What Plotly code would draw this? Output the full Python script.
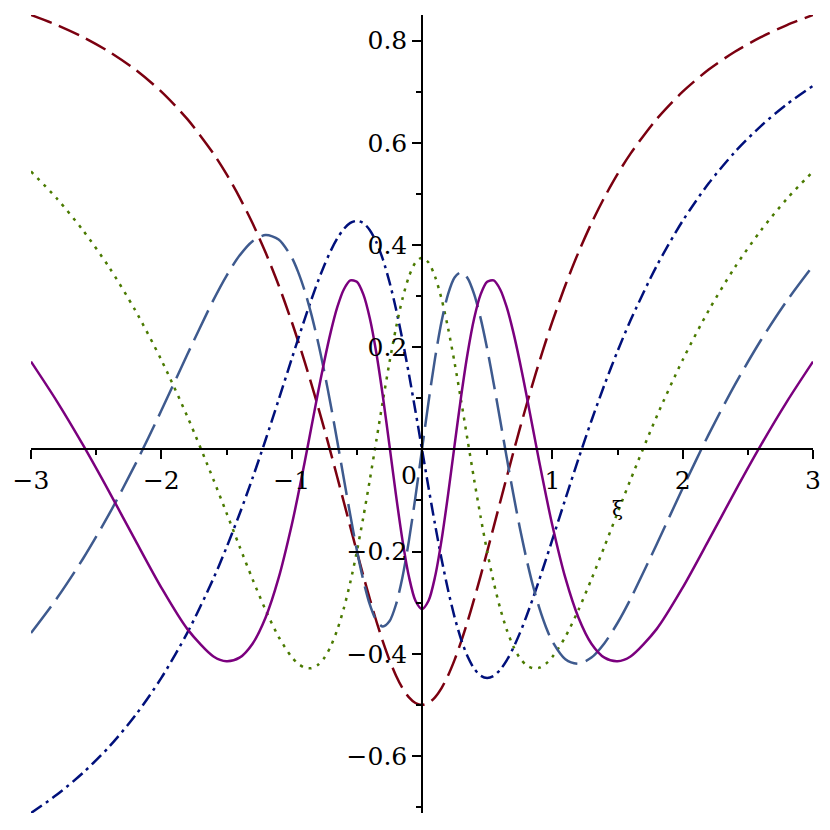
import plotly.graph_objects as go

# sample abscissae (xi)
xi = [-3.0, -2.8, -2.6, -2.4, -2.2, -2.0, -1.8, -1.6, -1.5, -1.4, -1.3, -1.2, -1.1, -1.0,
      -0.95, -0.9, -0.85, -0.8, -0.75, -0.7, -0.65, -0.6, -0.55, -0.5, -0.45, -0.4, -0.35,
      -0.3, -0.25, -0.2, -0.15, -0.1, -0.05,
      0.0,
      0.05, 0.1, 0.15, 0.2, 0.25, 0.3, 0.35, 0.4, 0.45, 0.5, 0.55, 0.6, 0.65, 0.7, 0.75,
      0.8, 0.85, 0.9, 0.95, 1.0, 1.1, 1.2, 1.3, 1.4, 1.5, 1.6, 1.8, 2.0, 2.2, 2.4, 2.6,
      2.8, 3.0]

red_vals = [0.8500, 0.8303, 0.8067, 0.7781, 0.7432, 0.7000, 0.6462, 0.5787, 0.5385, 0.4932,
            0.4424, 0.3852, 0.3213, 0.2500, 0.2116, 0.1713, 0.1292, 0.0854, 0.0400, -0.0067,
            -0.0545, -0.1029, -0.1516, -0.2000, -0.2474, -0.2931, -0.3363, -0.3761, -0.4118,
            -0.4423, -0.4670, -0.4851, -0.4963,
            -0.5000,
            -0.4963, -0.4851, -0.4670, -0.4423, -0.4118, -0.3761, -0.3363, -0.2931, -0.2474,
            -0.2000, -0.1516, -0.1029, -0.0545, -0.0067, 0.0400, 0.0854, 0.1292, 0.1713,
            0.2116, 0.2500, 0.3213, 0.3852, 0.4424, 0.4932, 0.5385, 0.5787, 0.6462, 0.7000,
            0.7432, 0.7781, 0.8067, 0.8303, 0.8500]

navy_vals = [-0.7115, -0.6754, -0.6327, -0.5817, -0.5207, -0.4472, -0.3587, -0.2525, -0.1920,
             -0.1265, -0.0560, 0.0189, 0.0971, 0.1768, 0.2163, 0.2550, 0.2923, 0.3276, 0.3600,
             0.3887, 0.4128, 0.4313, 0.4431, 0.4472, 0.4428, 0.4290, 0.4054, 0.3717, 0.3281,
             0.2753, 0.2144, 0.1468, 0.0746,
             0.0,
             -0.0746, -0.1468, -0.2144, -0.2753, -0.3281, -0.3717, -0.4054, -0.4290, -0.4428,
             -0.4472, -0.4431, -0.4313, -0.4128, -0.3887, -0.3600, -0.3276, -0.2923, -0.2550,
             -0.2163, -0.1768, -0.0971, -0.0189, 0.0560, 0.1265, 0.1920, 0.2525, 0.3587,
             0.4472, 0.5207, 0.5817, 0.6327, 0.6754, 0.7115]

green_vals = [0.5438, 0.4904, 0.4283, 0.3561, 0.2721, 0.1750, 0.0641, -0.0593, -0.1243, -0.1899,
              -0.2541, -0.3143, -0.3667, -0.4063, -0.4194, -0.4270, -0.4282, -0.4221, -0.4080,
              -0.3851, -0.3529, -0.3111, -0.2599, -0.2000, -0.1324, -0.0590, 0.0179, 0.0952,
              0.1696, 0.2372, 0.2946, 0.3383, 0.3657,
              0.3750,
              0.3657, 0.3383, 0.2946, 0.2372, 0.1696, 0.0952, 0.0179, -0.0590, -0.1324,
              -0.2000, -0.2599, -0.3111, -0.3529, -0.3851, -0.4080, -0.4221, -0.4282, -0.4270,
              -0.4194, -0.4063, -0.3667, -0.3143, -0.2541, -0.1899, -0.1243, -0.0593, 0.0641,
              0.1750, 0.2721, 0.3561, 0.4283, 0.4904, 0.5438]

steel_vals = [-0.3593, -0.2909, -0.2135, -0.1263, -0.0294, 0.0760, 0.1861, 0.2925, 0.3397,
              0.3792, 0.4074, 0.4195, 0.4107, 0.3757, 0.3469, 0.3102, 0.2653, 0.2126, 0.1526,
              0.0865, 0.0159, -0.0569, -0.1290, -0.1968, -0.2564, -0.3038, -0.3349, -0.3466,
              -0.3365, -0.3040, -0.2501, -0.1780, -0.0925,
              0.0,
              0.0925, 0.1780, 0.2501, 0.3040, 0.3365, 0.3466, 0.3349, 0.3038, 0.2564,
              0.1968, 0.1290, 0.0569, -0.0159, -0.0865, -0.1526, -0.2126, -0.2653, -0.3102,
              -0.3469, -0.3757, -0.4107, -0.4195, -0.4074, -0.3792, -0.3397, -0.2925, -0.1861,
              -0.0760, 0.0294, 0.1263, 0.2135, 0.2909, 0.3593]

purple_vals = [0.1718, 0.0936, 0.0083, -0.0830, -0.1777, -0.2705, -0.3517, -0.4053, -0.4147,
               -0.4076, -0.3802, -0.3289, -0.2516, -0.1484, -0.0885, -0.0245, 0.0418, 0.1083,
               0.1721, 0.2299, 0.2782, 0.3129, 0.3306, 0.3280, 0.3033, 0.2560, 0.1880, 0.1033,
               0.0083, -0.0884, -0.1775, -0.2494, -0.2963,
               -0.3125,
               -0.2963, -0.2494, -0.1775, -0.0884, 0.0083, 0.1033, 0.1880, 0.2560, 0.3033,
               0.3280, 0.3306, 0.3129, 0.2782, 0.2299, 0.1721, 0.1083, 0.0418, -0.0245,
               -0.0885, -0.1484, -0.2516, -0.3289, -0.3802, -0.4076, -0.4147, -0.4053, -0.3517,
               -0.2705, -0.1777, -0.0830, 0.0083, 0.0936, 0.1718]

x_tick_vals = [-3, -2, -1, 0, 1, 2, 3]
x_tick_text = ["−3", "−2", "−1", "", "1", "2", "3"]
x_minor_vals = [-2.5, -1.5, -0.5, 0.5, 1.5, 2.5]
y_tick_vals = [-0.6, -0.4, -0.2, 0.2, 0.4, 0.6, 0.8]
y_tick_text = ["−0.6", "−0.4", "−0.2", "0.2", "0.4", "0.6", "0.8"]
y_minor_vals = [-0.7, -0.5, -0.3, -0.1, 0.1, 0.3, 0.5, 0.7]

x_range = [-3.0, 3.0]
y_range = [-0.7115, 0.85]

series = [
    (red_vals, "#7B0010", "22px,8px"),
    (navy_vals, "#00107B", "13px,5px,3px,5px"),
    (green_vals, "#4A7A00", "3px,6px"),
    (steel_vals, "#3E5A8E", "33px,9px"),
    (purple_vals, "#7B007E", "solid"),
]

fig = go.Figure()
for vals, col, dash in series:
    fig.add_trace(go.Scatter(x=xi, y=vals, mode="lines",
                             line=dict(color=col, width=2.5, dash=dash, shape="spline",
                                       smoothing=0.8),
                             showlegend=False, hoverinfo="skip"))

tick_font = dict(family="DejaVu Serif", size=25, color="black")

# the page body adds an 8px offset, so the figure is 822px and margins compensate
fig.update_layout(
    width=822, height=822,
    margin=dict(l=23, r=17, t=7, b=17, autoexpand=False),
    paper_bgcolor="white", plot_bgcolor="white",
    showlegend=False,
    xaxis=dict(range=x_range, showgrid=False, zeroline=False, automargin=False,
               showline=True, linecolor="black", linewidth=1.5,
               anchor="free",
               position=(0 - y_range[0]) / (y_range[1] - y_range[0]),
               tickmode="array", tickvals=x_tick_vals, ticktext=x_tick_text,
               ticks="outside", ticklen=9, tickwidth=1.5, tickcolor="black",
               tickfont=tick_font,
               minor=dict(tickmode="array", tickvals=x_minor_vals,
                          ticks="outside", ticklen=5, tickwidth=1.5, tickcolor="black",
                          showgrid=False)),
    yaxis=dict(range=y_range, showgrid=False, zeroline=False, automargin=False,
               showline=True, linecolor="black", linewidth=1.5,
               anchor="free",
               position=(0 - x_range[0]) / (x_range[1] - x_range[0]),
               tickmode="array", tickvals=y_tick_vals, ticktext=y_tick_text,
               ticks="outside", ticklen=9, tickwidth=1.5, tickcolor="black",
               tickfont=tick_font,
               minor=dict(tickmode="array", tickvals=y_minor_vals,
                          ticks="outside", ticklen=5, tickwidth=1.5, tickcolor="black",
                          showgrid=False)),
)

fig.add_annotation(x=0, y=0, xref="x", yref="y", text="0", showarrow=False,
                   xshift=-13, yshift=-26, font=tick_font)
fig.add_annotation(x=1.5, y=0, xref="x", yref="y", text="ξ", showarrow=False,
                   yshift=-60, font=dict(family="DejaVu Serif", size=20, color="black"))

fig.write_html("out.html")
